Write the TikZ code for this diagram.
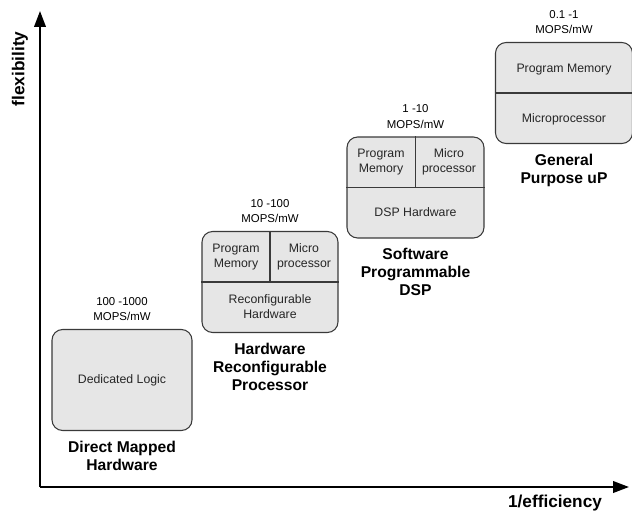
\documentclass[tikz,border=0pt]{standalone}
\usepackage{fontspec}
\setmainfont{Liberation Sans}
\usetikzlibrary{positioning,arrows.meta}
\definecolor{boxfill}{HTML}{E6E6E6}
\definecolor{boxline}{HTML}{3A3A3A}
\tikzstyle{axis}  = [line width=1.2pt,-{Triangle[length=9pt,width=6.5pt]}]
\begin{document}
\begin{tikzpicture}[x=0.02cm,y=-0.02cm,
			unit/.style={draw=boxline, fill=boxfill, line width=0.6pt, rounded corners=6pt, inner sep=0pt, minimum width=2.74cm, minimum height=2.02cm},
			part/.style={font=\fontsize{7}{8.6}\selectfont, align=center, text=black!85},
			rate/.style={font=\fontsize{6.5}{9}\selectfont, align=center},
			title/.style={font=\bfseries\fontsize{8.9}{10.3}\selectfont, align=center},
			axlabel/.style={font=\bfseries\fontsize{9.8}{11}\selectfont}]
		\useasboundingbox (0,0) rectangle (632,511);

		% axes
		\coordinate (o) at (40,487);
		\coordinate (ytop) at (40,11);
		\coordinate (xend) at (629,487);
		\draw[axis] (o) -- (ytop);
		\draw[axis] (o) -- (xend);
		\node[axlabel, rotate=90] (ylab) at (20,69) {flexibility};
		\node[axlabel] (xlab) at (555,503) {1/efficiency};

		% direct mapped hardware
		\node[unit, minimum width=2.8cm] (dml) at (122,380) {};
		\node[part] (dmlt) at (dml.center) {Dedicated Logic};
		\node[rate, above=1pt of dml] (dmlr) {100 -1000\\MOPS/mW};
		\node[title, below=2pt of dml] (dmln) {Direct Mapped\\Hardware};

		% hardware reconfigurable processor
		\node[unit, minimum width=2.72cm] (hrp) at (270,282) {};
		\draw[boxline, line width=0.6pt] (hrp.west) -- (hrp.east);
		\draw[boxline, line width=0.6pt] (hrp.center) -- (hrp.north);
		\node[part] (hrpm) at (236,257) {Program\\Memory};
		\node[part] (hrpu) at (304,257) {Micro\\processor};
		\node[part] (hrph) at (270,307) {Reconfigurable\\Hardware};
		\node[rate, above=1pt of hrp] (hrpr) {10 -100\\MOPS/mW};
		\node[title, below=2pt of hrp] (hrpn) {Hardware\\Reconfigurable\\Processor};

		% software programmable dsp
		\node[unit] (spd) at (415.5,187.5) {};
		\draw[boxline, line width=0.6pt] (spd.west) -- (spd.east);
		\draw[boxline, line width=0.6pt] (spd.center) -- (spd.north);
		\node[part] (spdm) at (381,162) {Program\\Memory};
		\node[part] (spdu) at (449,162) {Micro\\processor};
		\node[part] (spdh) at (415.5,212) {DSP Hardware};
		\node[rate, above=1pt of spd] (spdr) {1 -10\\MOPS/mW};
		\node[title, below=2pt of spd] (spdn) {Software\\Programmable\\DSP};

		% general purpose
		\node[unit] (gpp) at (564,93) {};
		\draw[boxline, line width=0.6pt] (gpp.west) -- (gpp.east);
		\node[part] (gppm) at (564,70) {Program Memory};
		\node[part] (gppu) at (564,119) {Microprocessor};
		\node[rate, above=1pt of gpp] (gppr) {0.1 -1\\MOPS/mW};
		\node[title, below=2pt of gpp] (gppn) {General\\Purpose uP};
	\end{tikzpicture}
\end{document}
